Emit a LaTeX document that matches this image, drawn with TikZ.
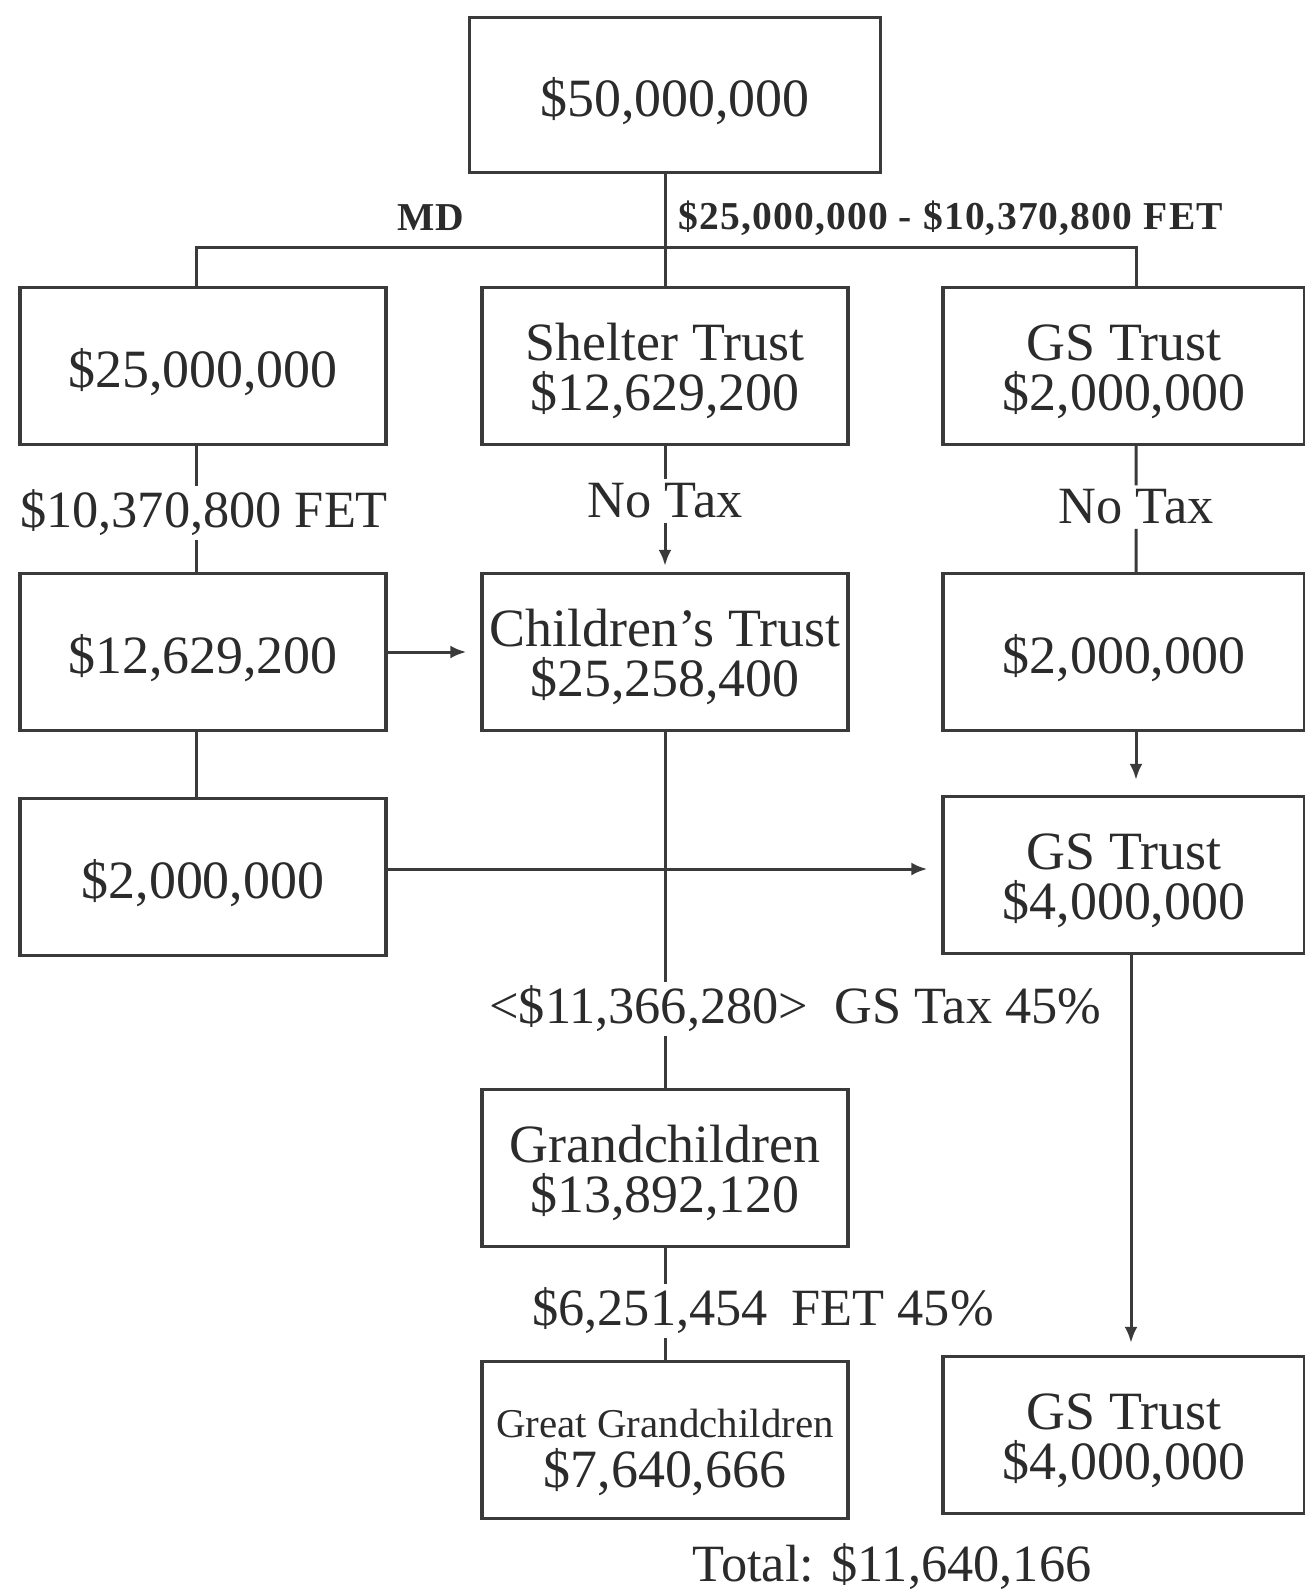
\documentclass[tikz,border=0pt]{standalone}
\usepackage{fontspec}
\setmainfont{Liberation Serif}
\newfontfamily\tikzfontsmallfam[LetterSpace=3]{Liberation Serif}
\usetikzlibrary{arrows.meta}
\definecolor{col_3a3a3a}{RGB}{58,58,58}
\definecolor{col_2b2b2b}{RGB}{43,43,43}
\newcommand{\tikzfontbox}{\fontsize{30.7}{28.5}\selectfont}
\newcommand{\tikzfontbig}{\fontsize{29.8}{28.5}\selectfont}
\newcommand{\tikzfontmid}{\fontsize{23.3}{24}\selectfont}
\newcommand{\tikzfontsmall}{\tikzfontsmallfam\bfseries\fontsize{22.5}{24}\selectfont}
\newcommand{\tikzlift}{\rule{0pt}{0.96em}}
\newcommand{\tikzliftt}{\rule{0pt}{0.88em}}

\begin{document}
\begin{tikzpicture}[x=0.02cm, y=-0.02cm,
  cell/.style={draw=col_3a3a3a, line width=0.07cm, minimum width=7.32cm, minimum height=3.14cm, inner sep=0pt, align=center, font=\tikzfontbox, text=col_2b2b2b},
  lbl/.style={inner sep=0.08cm, font=\tikzfontbig, text=col_2b2b2b},
  tinylbl/.style={inner sep=0.04cm, font=\tikzfontsmall, text=col_2b2b2b},
  link/.style={draw=col_3a3a3a, line width=0.06cm},
  arr/.style={link, -{Latex[length=0.32cm,width=0.26cm]}},
  lft/.style={xshift=-0.14cm},
  rgt/.style={xshift=0.24cm}]
\useasboundingbox (0,0) rectangle (1305,1590);
%% boxes
\node[cell, minimum width=8.22cm, minimum height=3.1cm] (top) at (675,95) {\tikzlift\$50,000,000};
\node[cell] (a1) at (203,366) {\tikzlift\$25,000,000};
\node[cell] (sh) at (665,366) {\tikzliftt Shelter Trust\\\$12,629,200};
\node[cell, minimum width=7.24cm] (g1) at (1124,366) {\tikzliftt GS Trust\\\$2,000,000};
\node[cell] (a2) at (203,652) {\tikzlift\$12,629,200};
\node[cell] (ch) at (665,652) {\tikzliftt Children’s Trust\\\$25,258,400};
\node[cell, minimum width=7.24cm] (g2) at (1124,652) {\tikzlift\$2,000,000};
\node[cell] (a3) at (203,877) {\tikzlift\$2,000,000};
\node[cell, minimum width=7.24cm] (g3) at (1124,875) {\tikzliftt GS Trust\\\$4,000,000};
\node[cell] (gc) at (665,1168) {\tikzliftt Grandchildren\\\$13,892,120};
\node[cell] (ggc) at (665,1440) {\rule{0pt}{0.98em}{\tikzfontmid Great Grandchildren}\\\$7,640,666};
\node[cell, minimum width=7.24cm] (g4) at (1124,1435) {\tikzliftt GS Trust\\\$4,000,000};
%% labels
\coordinate (bar) at (0,247);
\node[tinylbl] (md) at (431,218) {MD};
\node[tinylbl, anchor=west] (fet1) at (676,218) {\$25,000,000 - \$10,370,800 FET};
\node[lbl] (fet2) at (204,513) {\$10,370,800 FET};
\node[lbl] (nt1) at (665,501) {No Tax};
\node[lbl] (nt2) at (1136,507) {No Tax};
\node[lbl, anchor=west] (gst) at (485,1009) {<\$11,366,280>\hspace{0.5em}GS Tax 45\%};
\node[lbl, anchor=west] (fet3) at (528,1311) {\$6,251,454\hspace{0.45em}FET 45\%};
\node[lbl] (tot) at (892,1567) {Total: \$11,640,166};
%% shifted ends of the side links
\coordinate[lft] (a1n) at (a1.north);
\coordinate[lft] (a1s) at (a1.south);
\coordinate[lft] (a2n) at (a2.north);
\coordinate[lft] (a2s) at (a2.south);
\coordinate[lft] (a3n) at (a3.north);
\coordinate[rgt] (g1n) at (g1.north);
\coordinate[rgt] (g1s) at (g1.south);
\coordinate[rgt] (g2n) at (g2.north);
\coordinate[rgt] (g2s) at (g2.south);
\coordinate[rgt] (g3n) at (g3.north);
\coordinate[xshift=0.14cm] (g3s) at (g3.south);
\coordinate[xshift=0.14cm] (g4n) at (g4.north);
\coordinate[yshift=0.16cm] (a3e) at (a3.east);
%% connectors
\draw[link] (top.south -| sh.north) -- (sh.north);
\draw[link] (a1n) |- (bar -| g1n) -- (g1n);
\draw[link] (a1s) -- (a1s |- fet2.north);
\draw[link] (a2n |- fet2.south) -- (a2n);
\draw[link] (a2s) -- (a3n);
\draw[link] (sh.south) -- (nt1.north);
\draw[arr, shorten >=0.12cm] (nt1.south) -- (ch.north);
\draw[link] (g1s) -- (nt2.north);
\draw[link] (nt2.south) -- (g2n);
\draw[arr, shorten >=0.3cm] (g2s) -- (g3n);
\draw[arr, shorten >=0.28cm] (a2.east) -- (ch.west);
\draw[arr, shorten >=0.28cm] (a3e) -- (a3e -| g3.west);
\draw[link] (ch.south) -- (ch.south |- gst.north);
\draw[link] (ch.south |- gst.south) -- (gc.north);
\draw[link] (gc.south) -- (gc.south |- fet3.north);
\draw[link] (gc.south |- fet3.south) -- (ggc.north);
\draw[arr, shorten >=0.24cm] (g3s) -- (g4n);
\end{tikzpicture}
\end{document}
